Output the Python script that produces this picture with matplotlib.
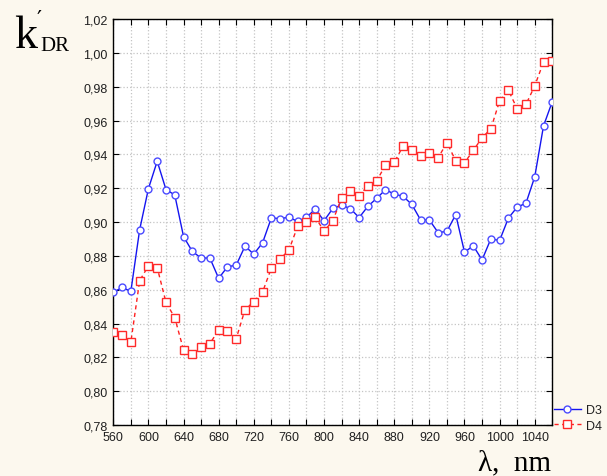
import matplotlib
matplotlib.use("Agg")
import matplotlib.pyplot as plt
from matplotlib.ticker import MultipleLocator, FuncFormatter

wavelength = list(range(560, 1061, 10))
d3 = [0.8584, 0.8613, 0.8590, 0.8954, 0.9197, 0.9359, 0.9192, 0.9160, 0.8914, 0.8826,
      0.8787, 0.8787, 0.8667, 0.8735, 0.8745, 0.8857, 0.8810, 0.8877, 0.9024, 0.9020,
      0.9028, 0.9003, 0.9028, 0.9076, 0.9007, 0.9080, 0.9100, 0.9079, 0.9026, 0.9093,
      0.9140, 0.9191, 0.9165, 0.9152, 0.9104, 0.9012, 0.9012, 0.8937, 0.8945, 0.9044,
      0.8822, 0.8859, 0.8776, 0.8900, 0.8891, 0.9023, 0.9088, 0.9111, 0.9267, 0.9568,
      0.9712]
d4 = [0.8352, 0.8332, 0.8291, 0.8653, 0.8741, 0.8731, 0.8525, 0.8434, 0.8244, 0.8222,
      0.8260, 0.8281, 0.8362, 0.8358, 0.8311, 0.8482, 0.8529, 0.8586, 0.8727, 0.8781,
      0.8834, 0.8975, 0.8999, 0.9030, 0.8945, 0.9008, 0.9140, 0.9183, 0.9154, 0.9215,
      0.9244, 0.9336, 0.9352, 0.9449, 0.9425, 0.9390, 0.9405, 0.9380, 0.9469, 0.9362,
      0.9350, 0.9423, 0.9498, 0.9551, 0.9716, 0.9779, 0.9669, 0.9695, 0.9805, 0.9945,
      0.9951]
series_names = ["D3", "D4"]

bg = "#FCF8EE"
fig = plt.figure(figsize=(6.07, 4.77), dpi=100, facecolor=bg)
ax = fig.add_axes([113.3/607, 1-426/477, (552.3-113.3)/607, (426-20)/477])
ax.set_facecolor("white")

ax.plot(wavelength, d3, color="#1414F0", lw=1.0, linestyle="-",
        marker="o", markersize=5, markerfacecolor="white",
        markeredgecolor="#4A4AFF", markeredgewidth=1.0, label=series_names[0], zorder=3)
ax.plot(wavelength, d4, color="#FF2020", lw=1.0, linestyle=(0, (3, 2.5)),
        marker="s", markersize=5.5, markerfacecolor="white",
        markeredgecolor="#FF2A2A", markeredgewidth=1.0, label=series_names[1], zorder=3)

ax.set_xlim(560, 1060)
ax.set_ylim(0.78, 1.02)
ax.xaxis.set_major_locator(MultipleLocator(40))
ax.xaxis.set_minor_locator(MultipleLocator(20))
ax.yaxis.set_major_locator(MultipleLocator(0.02))
ax.xaxis.set_major_formatter(FuncFormatter(lambda v, p: f"{v:.0f}" if v < 1060 else ""))
ax.yaxis.set_major_formatter(FuncFormatter(lambda v, p: f"{v:.2f}".replace(".", ",")))

ax.grid(True, which="both", axis="x", color="#C4C4C4", linestyle=":", lw=0.9)
ax.grid(True, which="major", axis="y", color="#C4C4C4", linestyle=":", lw=0.9)
ax.set_axisbelow(True)

for side in ["left", "right", "top", "bottom"]:
    ax.spines[side].set_color("black")
    ax.spines[side].set_linewidth(1.0)
ax.tick_params(axis="both", which="both", direction="in", length=4, width=0.8,
               top=True, right=True, colors="black")
ax.tick_params(axis="both", which="major", labelsize=9, pad=4)
for lab in ax.get_xticklabels() + ax.get_yticklabels():
    lab.set_fontfamily("Liberation Sans")
    lab.set_color("#202020")

# y label: k, prime, subscript DR
fig.text(14/607, 1-48/477, "k", family="Liberation Serif",
         fontsize=33, ha="left", va="baseline")
fig.text(37/607, 1-26/477, "\u2032", family="DejaVu Serif",
         fontsize=16, ha="left", va="baseline")
fig.text(40/607, 1-51/477, "DR", family="Liberation Serif", fontsize=15,
         ha="left", va="baseline")
# x label
fig.text(551/607, 1-470/477, "\u03bb,  nm", family="Liberation Serif", fontsize=21,
         ha="right", va="baseline")

leg = fig.legend(loc="upper left", bbox_to_anchor=(551/607, 1-403/477), frameon=False,
                 prop={"family": "Liberation Sans", "size": 9}, handlelength=2.2,
                 handletextpad=0.4, labelspacing=0.25, borderaxespad=0, borderpad=0.2)
for t in leg.get_texts():
    t.set_color("#202020")

fig.savefig("out.png", dpi=100, facecolor=bg)
